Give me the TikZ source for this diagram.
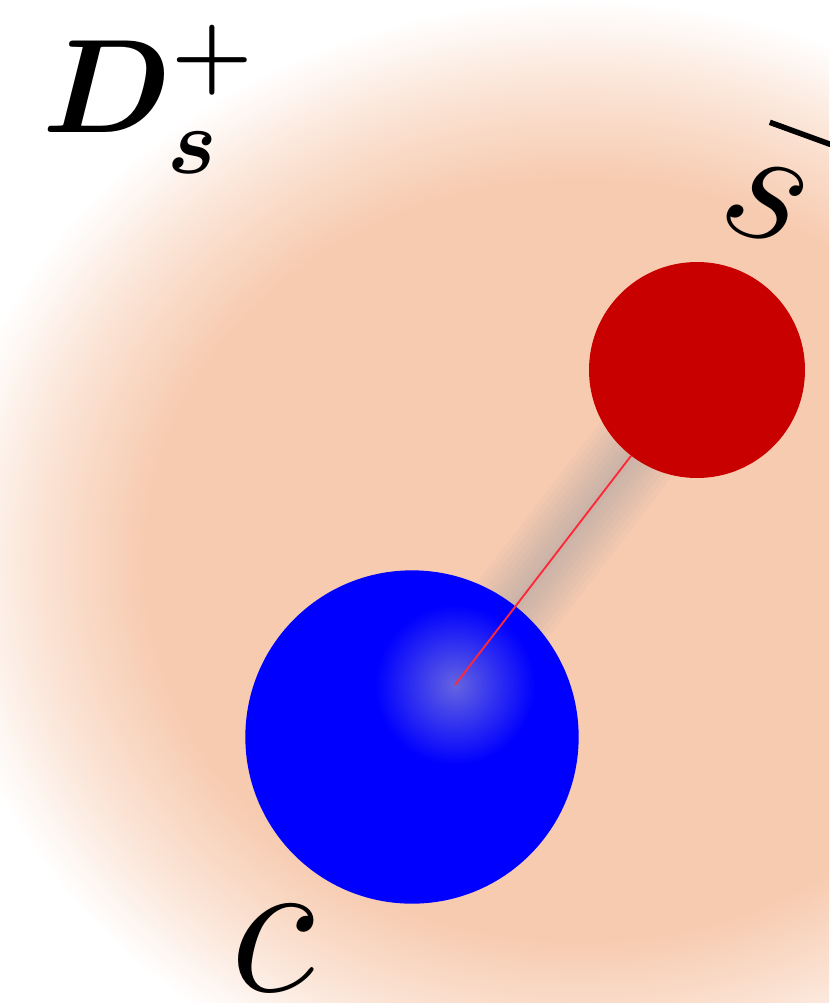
\RequirePackage{fix-cm}
\documentclass[tikz,border=0pt]{standalone}
\usepackage{amsmath,amsbsy}
\usetikzlibrary{calc}
\definecolor{piersica}{RGB}{247,203,176}
\definecolor{rosu}{RGB}{200,0,0}
\definecolor{albastru}{RGB}{0,0,255}
\definecolor{lumina}{RGB}{100,100,225}
\definecolor{umbra}{RGB}{140,150,165}
\definecolor{fir}{RGB}{255,40,55}
\pgfdeclareradialshading{halou}{\pgfpoint{0bp}{0bp}}{color(0bp)=(piersica); color(17bp)=(piersica); color(21bp)=(piersica!55!white); color(25bp)=(white); color(50bp)=(white)}
\tikzset{
  cuarc/.style    = {circle, inner sep=0pt, outer sep=0pt},
  eticheta/.style = {inner sep=0pt, text=black},
  legatura/.style = {draw=fir, line width=1.4pt},
  umbrire/.style  = {umbra, line cap=round}
}

\begin{document}
\begin{tikzpicture}[x=0.75pt, y=-0.75pt]
        \useasboundingbox (0,0) rectangle (829,1003);
        \fill[white] (0,0) rectangle (829,1003);
        \begin{scope}
          \clip (0,0) rectangle (829,1003);
          \shade[shading=halou] (-60,0) rectangle (1220,1120);
        \end{scope}

        \coordinate (nucleu) at (455,685);
        \coordinate (varf) at (697,370);
        % umbra legaturii
        \foreach \w in {90,80,...,10}
          \draw[umbrire, line width=\w*0.75pt, opacity=0.05] ($(nucleu)!0.2!(varf)$) -- ($(nucleu)!0.75!(varf)$);

        \node[cuarc, fill=albastru, minimum size=250pt] (c) at (412,737) {};
        \shade[inner color=lumina, outer color=albastru] (nucleu) circle (80);
        \node[cuarc, fill=rosu, minimum size=162pt] (sb) at (varf) {};
        \draw[legatura] (nucleu) -- (sb);

        \node[eticheta, anchor=base west, font=\fontsize{100}{110}\selectfont] (mezon) at (42,132) {$\boldsymbol{D_s^+}$};
        \node[eticheta, anchor=base west, rotate=-20, font=\fontsize{130}{140}\selectfont] (antis) at (714,223) {$s$\hspace{-0.359em}\rule[0.64em]{0.6em}{0.032em}};
        \node[eticheta, font=\fontsize{150}{160}\selectfont] (litc) at (273,948) {$c$};
    \end{tikzpicture}
\end{document}
